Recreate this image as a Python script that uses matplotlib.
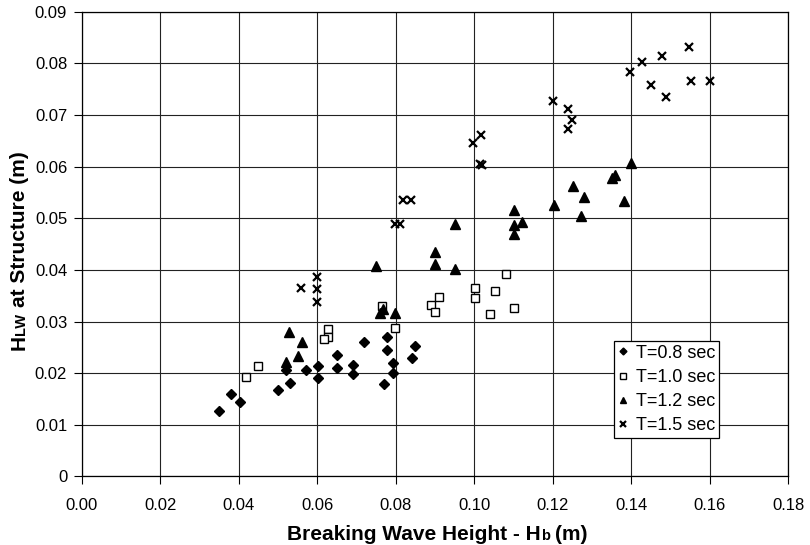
import matplotlib
matplotlib.use("Agg")
import matplotlib.pyplot as plt
from matplotlib.ticker import FixedLocator, FuncFormatter

plt.rcParams['font.family'] = ['Liberation Sans', 'DejaVu Sans']

# T = 0.8 sec
hb_08 = [0.0350, 0.0381, 0.0402, 0.0500, 0.0530, 0.0520, 0.0572, 0.0602, 0.0602, 0.0650, 0.0650,
         0.0691, 0.0691, 0.0718, 0.0779, 0.0779, 0.0792, 0.0792, 0.0770, 0.0841, 0.0850]
hlw_08 = [0.0127, 0.0160, 0.0144, 0.0168, 0.0181, 0.0206, 0.0206, 0.0213, 0.0191, 0.0236, 0.0210,
          0.0216, 0.0199, 0.0261, 0.0271, 0.0245, 0.0219, 0.0200, 0.0180, 0.0230, 0.0252]
# T = 1.0 sec
hb_10 = [0.0419, 0.0450, 0.0627, 0.0627, 0.0617, 0.0799, 0.0889, 0.0911, 0.0900, 0.1002, 0.1002,
         0.1052, 0.1081, 0.1040, 0.1101, 0.0766]
hlw_10 = [0.0193, 0.0214, 0.0286, 0.0270, 0.0266, 0.0288, 0.0332, 0.0347, 0.0319, 0.0365, 0.0346,
          0.0359, 0.0392, 0.0314, 0.0327, 0.0330]
# T = 1.2 sec
hb_12 = [0.0528, 0.0561, 0.0550, 0.0520, 0.0749, 0.0899, 0.0899, 0.0951, 0.0760, 0.0768, 0.0799,
         0.0951, 0.1102, 0.1102, 0.1123, 0.1101, 0.1203, 0.1252, 0.1281, 0.1273, 0.1400, 0.1358,
         0.1351, 0.1383]
hlw_12 = [0.0279, 0.0261, 0.0234, 0.0222, 0.0407, 0.0434, 0.0412, 0.0402, 0.0317, 0.0325, 0.0316,
          0.0489, 0.0516, 0.0487, 0.0492, 0.0470, 0.0525, 0.0562, 0.0541, 0.0505, 0.0607, 0.0583,
          0.0577, 0.0534]
# T = 1.5 sec
hb_15 = [0.0600, 0.0600, 0.0600, 0.0559, 0.0797, 0.0810, 0.0819, 0.0838, 0.0997, 0.1018, 0.1016,
         0.1020, 0.1200, 0.1240, 0.1250, 0.1239, 0.1398, 0.1428, 0.1478, 0.1548, 0.1450, 0.1490,
         0.1553, 0.1601]
hlw_15 = [0.0386, 0.0363, 0.0338, 0.0365, 0.0489, 0.0489, 0.0535, 0.0535, 0.0646, 0.0662, 0.0605,
          0.0604, 0.0726, 0.0712, 0.0691, 0.0673, 0.0784, 0.0803, 0.0815, 0.0832, 0.0757, 0.0735,
          0.0765, 0.0766]

xticks = [0.00, 0.02, 0.04, 0.06, 0.08, 0.10, 0.12, 0.14, 0.16, 0.18]
yticks = [0, 0.01, 0.02, 0.03, 0.04, 0.05, 0.06, 0.07, 0.08, 0.09]

fig = plt.figure(figsize=(8.10, 5.45), dpi=100)
ax = fig.add_axes([0.101, 0.1257, 0.872, 0.853])

ax.plot(hb_08, hlw_08, ls='none', marker='D', ms=5, color='black', label='T=0.8 sec')
ax.plot(hb_10, hlw_10, ls='none', marker='s', ms=6, mfc='white', mec='black', mew=1.0,
        label='T=1.0 sec')
ax.plot(hb_12, hlw_12, ls='none', marker='^', ms=7, color='black', label='T=1.2 sec')
ax.plot(hb_15, hlw_15, ls='none', marker='x', ms=6, mew=1.6, color='black', label='T=1.5 sec')

ax.set_xlim(0, 0.18)
ax.set_ylim(0, 0.09)
ax.xaxis.set_major_locator(FixedLocator(xticks))
ax.yaxis.set_major_locator(FixedLocator(yticks))
ax.xaxis.set_major_formatter(FuncFormatter(lambda v, p: '%.2f' % v))
ax.yaxis.set_major_formatter(FuncFormatter(lambda v, p: '0' if v == 0 else ('%.2f' % v)))
ax.tick_params(labelsize=12, length=5.5, width=0.8, direction='out', color='black')
ax.tick_params(axis='x', pad=10)
ax.tick_params(axis='y', pad=5)
ax.grid(True, color='#222222', lw=0.8)
ax.set_axisbelow(True)
for s in ax.spines.values():
    s.set_color('black')
    s.set_linewidth(0.9)

leg = ax.legend(loc='lower right', bbox_to_anchor=(0.902, 0.083), fontsize=13,
                frameon=True, fancybox=False, edgecolor='black', framealpha=1,
                handlelength=0.6, handletextpad=0.4, borderpad=0.2, labelspacing=0.4,
                borderaxespad=0, markerscale=0.7)
leg.get_frame().set_linewidth(0.9)

# x label: "Breaking Wave Height - Hb (m)" with small b
big, small = 15, 10.5
t1 = fig.text(287 / 810, 1 / 545, 'Breaking Wave Height - H', fontsize=big, fontweight='bold',
              ha='left', va='bottom')
t2 = ax.annotate('b', xy=(1, 0), xycoords=t1, xytext=(0, 1), textcoords='offset points',
                 fontsize=small, fontweight='bold', ha='left', va='bottom')
ax.annotate('(m)', xy=(1, 0), xycoords=t2, xytext=(4, -1), textcoords='offset points',
            fontsize=big, fontweight='bold', ha='left', va='bottom')

# y label: "HLW at Structure (m)" with small LW
u1 = fig.text(29 / 810, (545 - 350) / 545, 'H', fontsize=big, fontweight='bold',
              rotation=90, ha='right', va='bottom')
u2 = ax.annotate('LW', xy=(1, 1), xycoords=u1, xytext=(-1, 0), textcoords='offset points',
                 fontsize=small, fontweight='bold', rotation=90, ha='right', va='bottom')
ax.annotate('at Structure (m)', xy=(1, 1), xycoords=u2, xytext=(1, 4),
            textcoords='offset points', fontsize=big, fontweight='bold',
            rotation=90, ha='right', va='bottom')

fig.savefig('out.png', dpi=100)
